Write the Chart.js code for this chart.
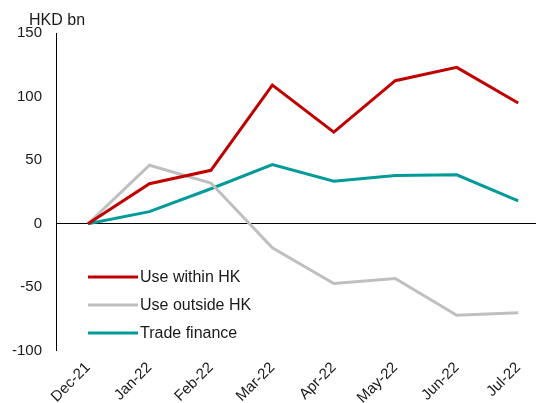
<!DOCTYPE html>
<html>
<head>
<meta charset="utf-8">
<script src="https://cdn.jsdelivr.net/npm/chart.js@4/dist/chart.umd.min.js"></script>
<style>
  html, body { margin: 0; padding: 0; background: #fff; }
  #wrap { width: 536px; height: 403px; position: relative; }
</style>
</head>
<body>
<div id="wrap"><canvas id="c"></canvas></div>
<script>
const months = ['Dec-21', 'Jan-22', 'Feb-22', 'Mar-22', 'Apr-22', 'May-22', 'Jun-22', 'Jul-22'];
const useWithinHK = [0, 31.5, 42, 109, 72, 112.5, 123, 95];
const useOutsideHK = [0, 46, 32, -19, -47, -43, -72, -70];
const tradeFinance = [0, 9.5, 27.5, 46.5, 33.5, 38, 38.5, 18];
const yTicks = [150, 100, 50, 0, -50, -100];

const FONT = '"Liberation Sans", Arial, sans-serif';
const TEXT = '#1a1a1a';

const series = [
  { label: 'Use within HK', data: useWithinHK, color: '#C00000' },
  { label: 'Use outside HK', data: useOutsideHK, color: '#BFBFBF' },
  { label: 'Trade finance', data: tradeFinance, color: '#009B98' }
];

// Unit label above the value axis
const unitLabel = {
  id: 'unitLabel',
  afterDraw(chart) {
    const ctx = chart.ctx;
    ctx.save();
    ctx.font = '16px ' + FONT;
    ctx.fillStyle = TEXT;
    ctx.textBaseline = 'alphabetic';
    ctx.textAlign = 'left';
    ctx.fillText('HKD bn', 29, 25);
    ctx.restore();
  }
};

// Legend drawn inside the plot, lower left
const innerLegend = {
  id: 'innerLegend',
  afterDraw(chart) {
    const ctx = chart.ctx;
    const x0 = 88, x1 = 138, yStart = 277, gap = 28;
    ctx.save();
    ctx.font = '16px ' + FONT;
    ctx.textBaseline = 'middle';
    ctx.textAlign = 'left';
    chart.data.datasets.forEach((ds, i) => {
      const y = yStart + i * gap;
      ctx.strokeStyle = ds.borderColor;
      ctx.lineWidth = 3;
      ctx.beginPath();
      ctx.moveTo(x0, y);
      ctx.lineTo(x1, y);
      ctx.stroke();
      ctx.fillStyle = TEXT;
      ctx.fillText(ds.label, x1 + 2, y + 1);
    });
    ctx.restore();
  }
};

new Chart(document.getElementById('c'), {
  type: 'line',
  data: {
    datasets: series.map(s => ({
      label: s.label,
      data: s.data.map((v, i) => ({ x: i, y: v })),
      borderColor: s.color,
      backgroundColor: s.color,
      borderWidth: 3,
      pointRadius: 0,
      tension: 0,
      fill: false
    }))
  },
  options: {
    responsive: true,
    maintainAspectRatio: false,
    animation: false,
    layout: { padding: { top: 33, right: 0, left: -2, bottom: -4 } },
    plugins: { legend: { display: false }, tooltip: { enabled: false } },
    scales: {
      x: {
        type: 'linear',
        min: -0.52,
        max: 7.29,
        afterBuildTicks(axis) {
          axis.ticks = months.map((m, i) => ({ value: i }));
        },
        ticks: {
          autoSkip: false,
          minRotation: 45,
          maxRotation: 45,
          padding: 0,
          color: TEXT,
          font: { family: FONT, size: 15 },
          callback: (v) => months[v]
        },
        grid: { display: false },
        border: { display: false }
      },
      y: {
        min: -100,
        max: 150,
        afterBuildTicks(axis) {
          axis.ticks = yTicks.map(v => ({ value: v }));
        },
        ticks: {
          padding: 14,
          color: TEXT,
          font: { family: FONT, size: 15 }
        },
        grid: {
          drawTicks: false,
          lineWidth: 1,
          color: (c) => (c.tick && c.tick.value === 0 ? '#000' : 'rgba(0,0,0,0)')
        },
        border: { display: true, color: '#000', width: 1 }
      }
    }
  },
  plugins: [unitLabel, innerLegend]
});
</script>
</body>
</html>
